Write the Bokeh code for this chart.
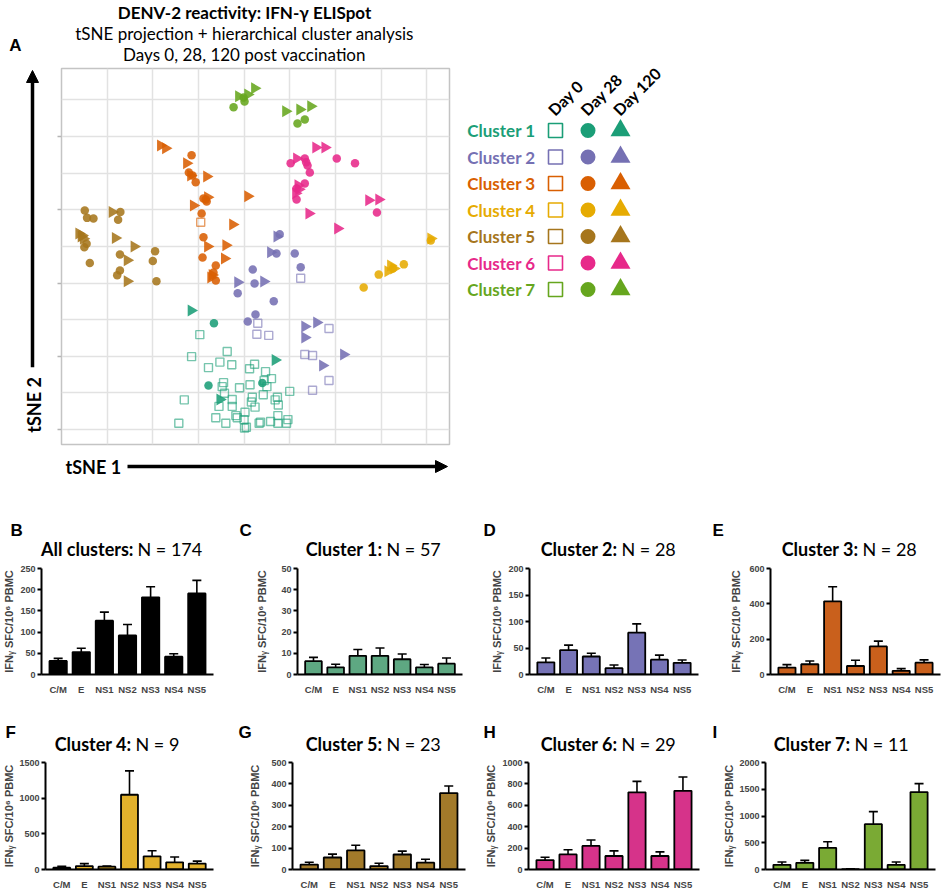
import math
from bokeh.plotting import figure
from bokeh.models import (Range1d, FactorRange, ColumnDataSource, Arrow,
                          NormalHead, FixedTicker, Whisker, TeeHead)
from bokeh.layouts import row, column
from bokeh.core.properties import value
from bokeh.embed import file_html
from bokeh.resources import INLINE

# ---------------- tSNE projection data (arbitrary tSNE units) ----------------
clusters = ["Cluster 1", "Cluster 2", "Cluster 3", "Cluster 4", "Cluster 5", "Cluster 6", "Cluster 7"]
day_labels = ["Day 0", "Day 28", "Day 120"]
cluster_colors = ["#1b9e77", "#7570b3", "#d95f02", "#e6ab02", "#a6761d", "#e7298a", "#66a61e"]

c1_day0_t1 = [3.03, 2.85, 3.63, 3.47, 3.73, 3.22, 4.23, 4.12, 4.47, 4.60, 4.44, 3.55, 3.52, 4.13, 3.90,
              4.50, 3.57, 5.00, 2.69, 3.74, 4.18, 4.42, 4.73, 4.68, 3.45, 3.74, 4.16, 4.24, 4.75, 4.02,
              3.38, 3.82, 3.85, 4.00, 3.60, 4.36, 4.58, 4.74, 4.96, 4.93, 4.01, 4.05, 2.57, 4.33, 4.74]
c1_day0_t2 = [2.59, 1.99, 2.13, 1.84, 1.77, 1.69, 1.78, 1.66, 1.58, 1.39, 1.34, 1.28, 1.17, 1.22, 1.14,
              1.17, 0.99, 1.04, 0.81, 0.82, 0.88, 0.95, 0.88, 0.81, 0.63, 0.63, 0.75, 0.61, 0.67, 0.47,
              0.32, 0.38, 0.32, 0.27, 0.17, 0.20, 0.22, 0.38, 0.27, 0.17, 0.04, 0.06, 0.17, 0.17, 0.17]
c1_day28_t1 = [3.34, 3.22, 4.40]
c1_day28_t2 = [2.90, 1.20, 1.27]
c1_day120_t1 = [2.84, 4.68, 3.47]
c1_day120_t2 = [3.25, 1.90, 0.82]

c2_day0_t1 = [5.24, 4.30, 4.28, 4.54, 5.86, 5.33, 5.50, 5.86, 5.50]
c2_day0_t2 = [4.13, 2.90, 2.60, 2.57, 2.76, 2.05, 2.02, 1.34, 1.07]
c2_day28_t1 = [4.78, 4.71, 5.11, 5.24, 4.19, 4.23, 3.86, 4.65, 4.25, 4.08]
c2_day28_t2 = [5.33, 4.81, 4.81, 4.43, 4.37, 3.99, 3.72, 3.50, 3.14, 2.95]
c2_day120_t1 = [4.72, 4.58, 3.86, 4.43, 5.33, 5.59, 5.33, 6.18, 5.72]
c2_day120_t2 = [5.27, 4.84, 4.02, 4.04, 2.81, 2.92, 2.51, 2.05, 1.75]

c3_day0_t1 = [3.05]
c3_day0_t2 = [5.66]
c3_day28_t1 = [2.85, 2.79, 2.87, 2.94, 3.11, 3.18, 3.16, 3.07, 3.11, 3.09, 3.38, 3.33, 3.38]
c3_day28_t2 = [7.49, 7.02, 6.94, 6.75, 6.31, 6.23, 6.28, 5.90, 5.25, 4.70, 4.48, 4.29, 4.07]
c3_day120_t1 = [2.17, 2.28, 2.74, 2.83, 3.18, 3.20, 2.89, 4.08, 3.75, 3.20, 3.60, 3.57, 3.27, 3.30]
c3_day120_t2 = [7.76, 7.68, 7.27, 6.94, 6.91, 6.34, 6.12, 6.37, 5.60, 5.00, 5.03, 4.67, 4.15, 4.22]

c4_day0_t1 = []
c4_day0_t2 = []
c4_day28_t1 = [7.50, 6.95, 6.62, 8.09, 7.26]
c4_day28_t2 = [4.51, 4.23, 3.88, 5.16, 4.40]
c4_day120_t1 = [8.09, 7.21, 7.15, 7.28]
c4_day120_t2 = [5.22, 4.48, 4.32, 4.40]

c5_day0_t1 = []
c5_day0_t2 = []
c5_day28_t1 = [0.51, 0.56, 0.70, 1.29, 1.24, 0.55, 0.50, 0.62, 1.28, 1.28, 1.22, 2.05, 2.00, 2.08]
c5_day28_t2 = [5.98, 5.78, 5.76, 5.94, 5.73, 5.07, 4.98, 4.55, 4.78, 4.34, 4.21, 4.87, 4.60, 4.05]
c5_day120_t1 = [1.11, 0.38, 0.43, 0.48, 0.45, 1.18, 1.59, 1.44, 1.44]
c5_day120_t2 = [5.94, 5.35, 5.27, 5.21, 5.30, 5.23, 5.00, 4.62, 4.05]

c6_day0_t1 = []
c6_day0_t2 = []
c6_day28_t1 = [5.02, 5.33, 5.39, 5.44, 5.33, 5.15, 5.15, 6.03, 6.43, 6.91, 5.36]
c6_day28_t2 = [7.27, 7.40, 7.21, 7.02, 6.72, 6.58, 6.28, 7.40, 7.27, 5.93, 7.30]
c6_day120_t1 = [5.57, 5.77, 5.15, 5.18, 5.13, 5.42, 6.05, 6.73, 6.95, 5.20]
c6_day120_t2 = [7.70, 7.70, 7.40, 6.67, 6.45, 5.90, 5.49, 6.26, 6.28, 6.56]

c7_day0_t1 = []
c7_day0_t2 = []
c7_day28_t1 = [3.77, 4.01, 3.99, 5.17, 5.33]
c7_day28_t2 = [8.80, 8.96, 9.07, 8.36, 8.47]
c7_day120_t1 = [3.88, 4.08, 4.23, 4.91, 5.22, 5.46]
c7_day120_t2 = [9.10, 9.15, 9.32, 8.69, 8.74, 8.83]

# ---------------- ELISpot bar data (mean, SEM) ----------------
antigens = ["C/M", "E", "NS1", "NS2", "NS3", "NS4", "NS5"]
all_mean = [32, 53, 127, 92, 182, 42, 191]
all_sem = [6, 9, 20, 26, 25, 7, 31]
c1_mean = [6.3, 3.4, 8.8, 8.8, 7.2, 3.4, 5.1]
c1_sem = [1.8, 1.4, 3.0, 3.7, 2.5, 1.3, 2.7]
c2_mean = [23, 46, 34, 12, 79, 28, 22]
c2_sem = [8, 9.5, 6, 6, 16.5, 8.5, 5.5]
c3_mean = [39, 58, 414, 48, 159, 21, 67]
c3_sem = [17, 18, 83, 33, 30, 12, 16]
c4_mean = [26, 48, 39, 1048, 184, 101, 83]
c4_sem = [18, 35, 9, 334, 79, 74, 35]
c5_mean = [23, 56, 89, 16, 70, 32, 357]
c5_sem = [11, 16, 24, 13, 16, 16, 33]
c6_mean = [88, 141, 220, 126, 721, 126, 735]
c6_sem = [27, 44, 56, 48, 103, 39, 130]
c7_mean = [88, 124, 406, 6, 847, 88, 1447]
c7_sem = [53, 47, 112, 6, 235, 53, 159]

panel_letters = ["B", "C", "D", "E", "F", "G", "H", "I"]
panel_titles = ["All clusters:", "Cluster 1:", "Cluster 2:", "Cluster 3:",
                "Cluster 4:", "Cluster 5:", "Cluster 6:", "Cluster 7:"]
panel_n = [174, 57, 28, 28, 9, 23, 29, 11]
y_max = [250, 50, 200, 600, 1500, 500, 1000, 2000]
y_step = [50, 10, 50, 200, 500, 100, 200, 500]
bar_colors = ["#000000", "#5ea882", "#7673b6", "#c9601c", "#e2b12c", "#a27a2a", "#d6338a", "#7aaa34"]
y_label = "IFN\u1d67 SFC/10\u2076 PBMC"

TITLE_FONT = "Lato"
ARIAL = "Liberation Sans"


def blank(width, height):
    f = figure(width=width, height=height, x_range=Range1d(0, width), y_range=Range1d(height, 0),
               x_axis_location=None, y_axis_location=None, min_border=0,
               toolbar_location=None, output_backend="svg")
    f.grid.visible = False
    f.outline_line_color = None
    return f


def txt(fig, x, y, text, size, bold=True, font=TITLE_FONT, align="left", angle=0.0,
        color="black", baseline="middle"):
    fig.text(x=[x], y=[y], text=[text], text_font=value(font), text_font_size=size,
             text_font_style="bold" if bold else "normal", text_align=align,
             text_baseline=baseline, angle=angle, text_color=color)


def arrow(fig, x0, y0, x1, y1):
    fig.add_layout(Arrow(x_start=x0, y_start=y0, x_end=x1, y_end=y1, line_width=3.5,
                         end=NormalHead(size=12, fill_color="black", line_color="black")))


# ---------------- panel A: header ----------------
header = blank(451, 66)
txt(header, 15, 45, "A", "17px", font=ARIAL, align="center")
txt(header, 244, 12, "DENV-2 reactivity: IFN-\u03b3 ELISpot", "17px", align="center")
txt(header, 244, 33, "tSNE projection + hierarchical cluster analysis", "17px", bold=False, align="center")
txt(header, 244, 54, "Days 0, 28, 120 post vaccination", "17px", bold=False, align="center")

# left strip with tSNE 2 label and arrow
left_strip = blank(55, 380)
txt(left_strip, 33, 340, "tSNE 2", "18px", align="center", angle=math.pi / 2)
arrow(left_strip, 32, 302, 32, 2)

# bottom strip with tSNE 1 label and arrow
bottom_strip = blank(451, 44)
txt(bottom_strip, 65, 20, "tSNE 1", "18px")
arrow(bottom_strip, 127, 20, 447, 20)

# ---------------- panel A: tSNE scatter ----------------
p = figure(width=396, height=380, x_range=Range1d(0, 8.5), y_range=Range1d(-0.41, 9.86),
           x_axis_location=None, min_border_left=6, min_border_right=2,
           min_border_top=2, min_border_bottom=2,
           toolbar_location=None, output_backend="svg")
p.outline_line_color = "#c4c4c4"
p.outline_line_width = 1.5
p.xgrid.ticker = FixedTicker(ticks=[1, 2, 3, 4, 5, 6, 7, 8])
p.ygrid.ticker = FixedTicker(ticks=[0, 1, 2, 3, 4, 5, 6, 7, 8, 9])
p.grid.grid_line_color = "#e2e2e2"
p.grid.grid_line_width = 1.5
p.yaxis.ticker = FixedTicker(ticks=[0, 2, 4, 6, 8])
p.yaxis.major_label_overrides = {0: "", 2: "", 4: "", 6: "", 8: ""}
p.yaxis.axis_line_color = None
p.yaxis.major_tick_out = 4
p.yaxis.major_tick_in = 0
p.yaxis.major_tick_line_color = "#b5b5b5"
p.yaxis.major_tick_line_width = 1.5
p.yaxis.minor_tick_line_color = None
p.yaxis.major_label_standoff = 0

groups = [
    (0, c1_day0_t1, c1_day0_t2, c1_day28_t1, c1_day28_t2, c1_day120_t1, c1_day120_t2),
    (1, c2_day0_t1, c2_day0_t2, c2_day28_t1, c2_day28_t2, c2_day120_t1, c2_day120_t2),
    (2, c3_day0_t1, c3_day0_t2, c3_day28_t1, c3_day28_t2, c3_day120_t1, c3_day120_t2),
    (3, c4_day0_t1, c4_day0_t2, c4_day28_t1, c4_day28_t2, c4_day120_t1, c4_day120_t2),
    (4, c5_day0_t1, c5_day0_t2, c5_day28_t1, c5_day28_t2, c5_day120_t1, c5_day120_t2),
    (5, c6_day0_t1, c6_day0_t2, c6_day28_t1, c6_day28_t2, c6_day120_t1, c6_day120_t2),
    (6, c7_day0_t1, c7_day0_t2, c7_day28_t1, c7_day28_t2, c7_day120_t1, c7_day120_t2),
]
for ci, x0, y0, x28, y28, x120, y120 in groups:
    col = cluster_colors[ci]
    if x0:
        p.scatter(x0, y0, marker="square", size=8, fill_color=None, line_color=col,
                  line_width=1.4, line_alpha=0.6)
for ci, x0, y0, x28, y28, x120, y120 in groups:
    col = cluster_colors[ci]
    if x28:
        p.scatter(x28, y28, marker="circle", size=8.5, fill_color=col, fill_alpha=0.88,
                  line_color=None)
    if x120:
        p.scatter(x120, y120, marker="triangle", size=12, angle=-math.pi / 2,
                  fill_color=col, fill_alpha=0.88, line_color=None)

# ---------------- legend panel ----------------
leg = figure(width=498, height=490, x_range=Range1d(-3.2, 12.123), y_range=Range1d(13.585, -4.906),
             x_axis_location=None, y_axis_location=None, min_border=0,
             toolbar_location=None, output_backend="svg")
leg.grid.visible = False
leg.outline_line_color = None
rows_idx = list(range(len(clusters)))
leg.text(x=[-0.615] * len(clusters), y=rows_idx, text=clusters, text_color=cluster_colors,
         text_font=value(TITLE_FONT), text_font_size="17px", text_font_style="bold",
         text_align="right", text_baseline="middle")
leg.scatter(x=[0] * len(clusters), y=rows_idx, marker="square", size=14, fill_color=None,
            line_color=cluster_colors, line_width=1.6)
leg.scatter(x=[1] * len(clusters), y=rows_idx, marker="circle", size=15, fill_color=cluster_colors,
            line_color=None)
leg.scatter(x=[2] * len(clusters), y=rows_idx, marker="triangle", size=20, fill_color=cluster_colors,
            line_color=None)
leg.text(x=[i - 0.15 for i in range(len(day_labels))], y=[-0.68] * len(day_labels), text=day_labels,
         angle=math.pi / 4, text_font=value(TITLE_FONT), text_font_size="16px",
         text_font_style="bold", text_align="left", text_baseline="alphabetic", text_color="black")

# ---------------- bar panels ----------------
means = [all_mean, c1_mean, c2_mean, c3_mean, c4_mean, c5_mean, c6_mean, c7_mean]
sems = [all_sem, c1_sem, c2_sem, c3_sem, c4_sem, c5_sem, c6_sem, c7_sem]
panel_width = [237, 237, 237, 238, 237, 237, 237, 238]
border_left = [40, 60, 55, 59, 40, 55, 54, 54]
border_right = [24, 12, 13, 9, 24, 9, 12, 14]
label_standoff = [2, 10, 2, 4, 1, 7, 2, 1]
letter_x = [10, 239, 483, 712, 5, 238, 483, 712]
split_x = [133, 382, 617, 858, 131, 382, 617, 850]


def bar_panel(k, bar_h, bottom_border):
    w = panel_width[k]
    m = means[k]
    s = sems[k]
    src = ColumnDataSource(dict(ag=antigens, mean=m, upper=[a + b for a, b in zip(m, s)]))
    f = figure(width=w, height=bar_h, x_range=FactorRange(*antigens, range_padding=0.063),
               y_range=Range1d(0, y_max[k]),
               min_border_left=border_left[k], min_border_right=border_right[k],
               min_border_top=6, min_border_bottom=bottom_border,
               toolbar_location=None, output_backend="svg")
    f.grid.visible = False
    f.outline_line_color = None
    f.vbar(x="ag", top="mean", width=0.75, source=src, fill_color=bar_colors[k],
           line_color="black", line_width=1.8)
    f.add_layout(Whisker(base="ag", lower="mean", upper="upper", source=src,
                         line_color="black", line_width=1.6, lower_head=None,
                         upper_head=TeeHead(size=9, line_width=1.6, line_color="black")))
    f.yaxis.ticker = FixedTicker(ticks=list(range(0, y_max[k] + 1, y_step[k])))
    f.axis.axis_line_width = 2
    f.axis.major_label_text_font = ARIAL
    f.axis.major_label_text_font_style = "bold"
    f.axis.major_label_text_font_size = "9px"
    f.axis.minor_tick_line_color = None
    f.yaxis.major_tick_out = 4
    f.yaxis.major_tick_in = 0
    f.yaxis.major_tick_line_width = 2
    f.yaxis.major_label_standoff = 2
    f.yaxis.axis_label = y_label
    f.yaxis.axis_label_text_font = ARIAL
    f.yaxis.axis_label_text_font_style = "bold"
    f.yaxis.axis_label_text_font_size = "11px"
    f.yaxis.axis_label_standoff = label_standoff[k]
    f.xaxis.major_tick_line_color = None
    f.xaxis.major_label_standoff = 3
    f.xaxis.major_label_text_font_size = "9.5px"
    return f


def header_row(ks, height, letter_y, title_y):
    h = blank(949, height)
    for k in ks:
        txt(h, letter_x[k], letter_y, panel_letters[k], "17px", font=ARIAL)
        txt(h, split_x[k], title_y, panel_titles[k], "18px", align="right")
        txt(h, split_x[k] + 4, title_y, "N = %d" % panel_n[k], "18px", bold=False)
    return h


head1 = header_row(range(4), 72, 40, 58)
row1 = row(*[bar_panel(k, 135, 15) for k in range(4)])
head2 = header_row(range(4, 8), 59, 35, 46)
row2 = row(*[bar_panel(k, 136, 16) for k in range(4, 8)])

top = row(column(header, row(left_strip, p), bottom_strip), leg)
layout = column(top, head1, row1, head2, row2)
open("out.html", "w").write(file_html(layout, INLINE, "DENV-2 reactivity"))
